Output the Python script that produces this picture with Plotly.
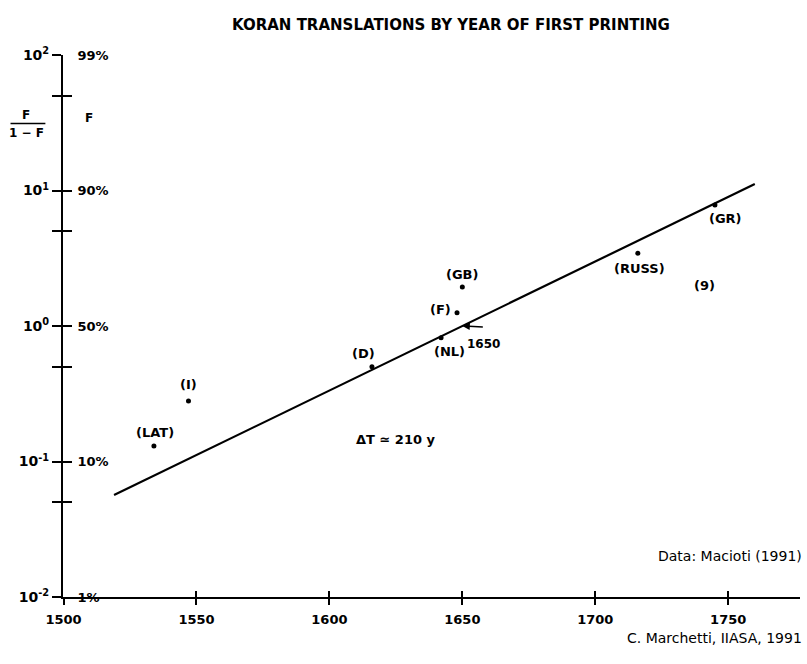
import math
import plotly.graph_objects as go

# Koran translations: country code, year of first printing, F/(1-F)
countries = ["LAT", "I", "D", "NL", "F", "GB", "RUSS", "GR"]
years = [1534, 1547, 1616, 1642, 1648, 1650, 1716, 1745]
ratios = [0.13, 0.28, 0.50, 0.82, 1.25, 1.94, 3.44, 7.8]

# logistic fit: midpoint year and 10%-90% time span
t_mid = 1650
delta_t = 210
fit_years = [1519, 1760]

x_ticks = [1500, 1550, 1600, 1650, 1700, 1750]
y_ticks = [0.01, 0.05, 0.1, 0.5, 1, 5, 10, 50, 100]
ratio_labels = ["10<sup>-2</sup>", "", "10<sup>-1</sup>", "", "10<sup>0</sup>", "",
                "10<sup>1</sup>", "", "10<sup>2</sup>"]
pct_labels = ["1%", "", "10%", "", "50%", "", "90%", "", "99%"]

# Fisher-Pry straight line: log10(F/(1-F)) rises two decades per delta_t
fit_values = [10 ** (2 * (t - t_mid) / delta_t) for t in fit_years]

FONT = "DejaVu Sans"
INK = "black"
X_RANGE = [1499.8, 1777]
Y_RANGE = [-2, 2]

fig = go.Figure()

fig.add_trace(go.Scatter(
    x=fit_years, y=fit_values, mode="lines",
    line=dict(color=INK, width=2.2), hoverinfo="skip", showlegend=False,
))
fig.add_trace(go.Scatter(
    x=years, y=ratios, mode="markers",
    marker=dict(color=INK, size=5), showlegend=False,
))
# carriers for the overlaid axes that give the crossing ticks
fig.add_trace(go.Scatter(x=[1600], y=[1], yaxis="y2", mode="markers",
                         marker=dict(opacity=0), hoverinfo="skip", showlegend=False))
fig.add_trace(go.Scatter(x=[1600], y=[1], xaxis="x2", mode="markers",
                         marker=dict(opacity=0), hoverinfo="skip", showlegend=False))

# country labels, pixel offsets from each dot
offsets = {
    "LAT": (1, 14), "I": (0, 16), "D": (-8, 13), "NL": (8, -14),
    "F": (-17, 3), "GB": (0, 13), "RUSS": (2, -15), "GR": (11, -13),
}
label_font = dict(family=FONT, size=13, color=INK, weight="bold")
for c, x, y in zip(countries, years, ratios):
    dx, dy = offsets[c]
    fig.add_annotation(x=x, y=math.log10(y), text=f"({c})", showarrow=False,
                       xanchor="center", xshift=dx, yshift=dy, font=label_font)

fig.add_annotation(x=1741, y=math.log10(1.99), text="(9)", showarrow=False,
                   xanchor="center", font=label_font)

# midpoint marker
fig.add_annotation(x=t_mid, y=0, text="", showarrow=True, ax=22, ay=1,
                   arrowhead=2, arrowsize=1, arrowwidth=1.5, arrowcolor=INK)
fig.add_annotation(x=t_mid, y=0, text=str(t_mid), showarrow=False,
                   xanchor="center", xshift=21, yshift=-18,
                   font=dict(family=FONT, size=12, color=INK, weight="bold"))

fig.add_annotation(x=1625, y=math.log10(0.145), text=f"ΔT ≃ {delta_t} y",
                   showarrow=False, xanchor="center",
                   font=dict(family=FONT, size=13, color=INK, weight="bold"))

fig.add_annotation(xref="paper", yref="paper", x=0.526, y=1.0546,
                   text="KORAN TRANSLATIONS BY YEAR OF FIRST PRINTING",
                   showarrow=False, xanchor="center", yanchor="middle",
                   font=dict(family=FONT, size=15, color=INK, weight="bold"))

# F/(1-F) fraction and F labels beside the vertical axis
small_font = dict(family=FONT, size=12, color=INK, weight="bold")
fig.add_annotation(xref="paper", yref="paper", x=-0.0497, y=0.889, text="F",
                   showarrow=False, xanchor="center", yanchor="middle",
                   font=small_font)
fig.add_annotation(xref="paper", yref="paper", x=-0.0497, y=0.857, text="1 − F",
                   showarrow=False, xanchor="center", yanchor="middle",
                   font=small_font)
fig.add_shape(type="line", xref="paper", yref="paper",
              x0=-0.0712, x1=-0.0239, y0=0.8735, y1=0.8735,
              line=dict(color=INK, width=1.5))
fig.add_annotation(xref="paper", yref="paper", x=0.0357, y=0.8843, text="F",
                   showarrow=False, xanchor="center", yanchor="middle",
                   font=small_font)

fig.add_annotation(xref="paper", yref="paper", x=1.0054, y=0.076,
                   text="Data: Macioti (1991)", showarrow=False,
                   xanchor="right", yanchor="middle",
                   font=dict(family=FONT, size=14, color=INK))
fig.add_annotation(xref="paper", yref="paper", x=1.0054, y=-0.0756,
                   text="C. Marchetti, IIASA, 1991", showarrow=False,
                   xanchor="right", yanchor="middle",
                   font=dict(family=FONT, size=14, color=INK))

tick_font = dict(family=FONT, size=13, color=INK, weight="bold")
exp_font = dict(family=FONT, size=14, color=INK, weight="bold")
common_x = dict(range=X_RANGE, showgrid=False, zeroline=False, tickvals=x_ticks,
                tickcolor=INK, tickwidth=1.5, ticklen=6, fixedrange=True)
common_y = dict(type="log", range=Y_RANGE, showgrid=False, zeroline=False,
                tickvals=y_ticks, tickcolor=INK, tickwidth=1.5, ticklen=9,
                fixedrange=True)

fig.update_layout(
    width=807, height=664,
    margin=dict(l=63, r=7, t=55, b=67),
    paper_bgcolor="white", plot_bgcolor="white",
    xaxis=dict(**common_x, ticks="outside", showline=True, linecolor=INK,
               linewidth=2, ticktext=[str(t) for t in x_ticks],
               tickfont=tick_font, ticklabelstandoff=3),
    xaxis2=dict(**common_x, ticks="inside", overlaying="x", anchor="y",
                side="bottom", showline=False, showticklabels=False),
    yaxis=dict(**common_y, ticks="outside", showline=True, linecolor=INK,
               linewidth=2, ticktext=ratio_labels, tickfont=exp_font),
    yaxis2=dict(**common_y, ticks="inside", overlaying="y", anchor="x",
                side="left", showline=False, ticktext=pct_labels,
                ticklabelposition="inside", ticklabeloverflow="allow",
                ticklabelstandoff=5, tickfont=tick_font),
)

fig.write_html("out.html")
